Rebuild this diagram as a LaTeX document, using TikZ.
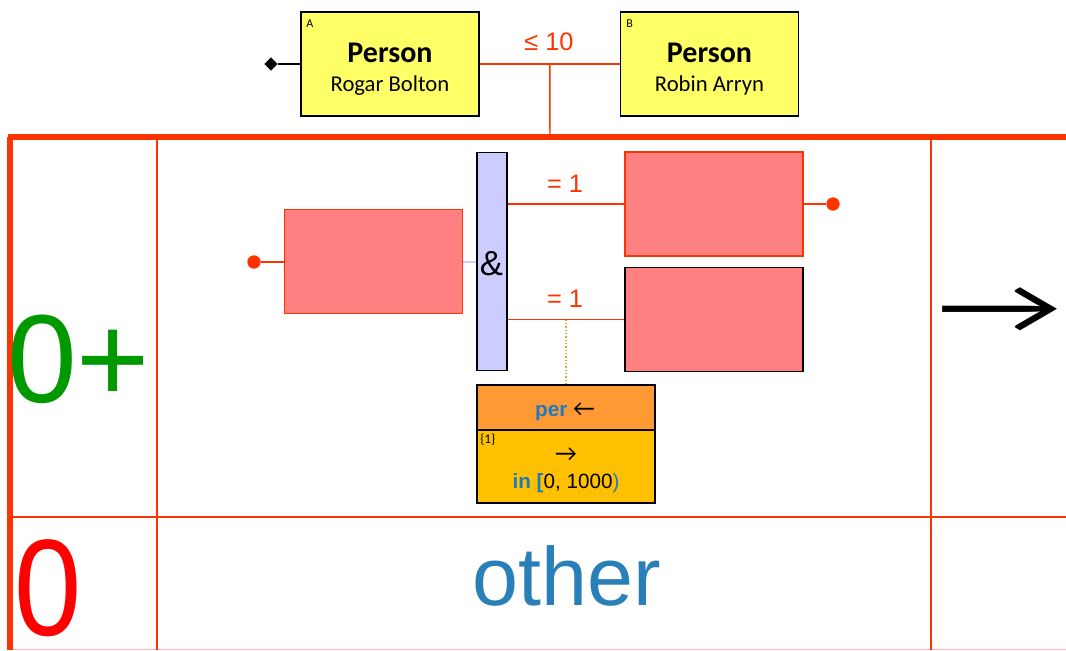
\documentclass[tikz,border=0pt]{standalone}
\usepackage{fontspec}
\setmainfont{Liberation Sans}
\newfontfamily\calibfont{Carlito}
\newfontfamily\narrowsans[FakeStretch=0.88]{Liberation Sans}
\usepackage{graphicx}
\usetikzlibrary{shapes.geometric,calc}
\definecolor{frameRed}{RGB}{255,51,0}
\definecolor{slotPink}{RGB}{255,128,128}
\definecolor{personYellow}{RGB}{255,255,102}
\definecolor{barLilac}{RGB}{204,204,255}
\definecolor{perOrange}{RGB}{255,153,51}
\definecolor{perAmber}{RGB}{255,192,0}
\definecolor{textBlue}{RGB}{31,122,190}
\definecolor{otherBlue}{RGB}{41,128,185}
\definecolor{plusGreen}{RGB}{0,153,0}
\tikzstyle{person} = [draw=black,fill=personYellow,line width=1.1pt,minimum width=133.5pt,minimum height=78pt,inner sep=0pt]
\tikzstyle{slot} = [draw=frameRed,fill=slotPink,line width=1.1pt,minimum width=133.5pt,minimum height=78pt,inner sep=0pt]
\tikzstyle{perbox} = [draw=black,line width=1.1pt,minimum width=133.5pt,inner sep=0pt]
\tikzstyle{frameline} = [color=frameRed,line width=1.1pt]
\tikzstyle{framethick} = [color=frameRed,line width=4.5pt]
\tikzstyle{link} = [color=frameRed,line width=1.1pt]
\tikzstyle{dot} = [circle,fill=frameRed,inner sep=0pt,minimum size=10pt]
\tikzstyle{lbl} = [inner sep=0pt,anchor=base,text=frameRed,font=\fontsize{19}{19}\selectfont]

\begin{document}
\begin{tikzpicture}[x=0.75pt,y=0.75pt,yscale=-1,xscale=1]
\useasboundingbox (0,0) rectangle (1066,650);

%Frame
\draw [frameline] (157,137) -- (157,650) ;
\draw [frameline] (931,137) -- (931,650) ;
\draw [frameline] (10,517) -- (1066,517) ;
\draw [frameline, draw opacity=0.35] (10,649.5) -- (1066,649.5) ;
\draw [framethick] (8,137) -- (1066,137) ;
\draw [framethick] (10,137) -- (10,650) ;
\coordinate (frameTop) at (550,137);

%Persons
\node [person] (personA) at (390,64) {};
\node [person] (personB) at (709.5,64) {};
\node [anchor=base,inner sep=0pt,font=\calibfont\fontsize{22.5}{22.5}\selectfont\bfseries] (titleA) at (390,62) {Person};
\node [anchor=base,inner sep=0pt,font=\calibfont\fontsize{17}{17}\selectfont] (nameA) at (390,91) {Rogar Bolton};
\node [anchor=base,inner sep=0pt,font=\calibfont\fontsize{22.5}{22.5}\selectfont\bfseries] (titleB) at (709.5,62) {Person};
\node [anchor=base,inner sep=0pt,font=\calibfont\fontsize{17}{17}\selectfont] (nameB) at (709.5,91) {Robin Arryn};
\node [anchor=base west,inner sep=0pt,font=\calibfont\fontsize{9}{9}\selectfont] (tagA) at (306,27) {A};
\node [anchor=base west,inner sep=0pt,font=\calibfont\fontsize{9}{9}\selectfont] (tagB) at (626,27) {B};
\node [diamond,fill=black,inner sep=0pt,minimum size=10pt] (rootA) at (271,64) {};
\draw [line width=1.1pt] (rootA) -- (personA.west) ;
\coordinate (relJoin) at ($(personA.east)!0.5!(personB.west)$);
\draw [link] (personA.east) -- (personB.west) ;
\draw [link] (relJoin) -- (frameTop) ;
\node [lbl] (limit) at (549,50) {≤ 10};

%Slots and bar
\node [slot] (slotLeft) at (373.5,261.5) {};
\node [slot] (slotTop) at (714,204) {};
\node [slot,draw=black] (slotBot) at (714,319.5) {};
\node [draw=black,fill=barLilac,line width=1.1pt,minimum width=22.5pt,minimum height=163.5pt,inner sep=0pt] (andbar) at (492,261.5) {};
\node [anchor=base,inner sep=0pt,font=\fontsize{26}{26}\selectfont] (andSign) at (491.5,275) {\&};
\node [dot] (dotLeft) at (254,262) {};
\node [dot] (dotTop) at (833,204) {};
\draw [link] (dotLeft) -- (dotLeft -| slotLeft.west) ;
\draw [link] (slotTop.east) -- (dotTop) ;
\draw [color=barLilac,line width=1.5pt] (slotLeft.east) -- (slotLeft.east -| andbar.west) ;
\draw [link] (andbar.east |- slotTop.west) -- (slotTop.west) ;
\draw [link] (andbar.east |- slotBot.west) -- (slotBot.west) ;
\node [lbl] (eqTop) at (565,192) {= 1};
\node [lbl] (eqBot) at (565,307) {= 1};

%Per box
\node [perbox,fill=perOrange,minimum height=33.75pt] (perhead) at (566,407.5) {};
\node [perbox,fill=perAmber,minimum height=54.75pt] (perbody) at (566,466.5) {};
\draw [color=perOrange,line width=1.2pt,dash pattern=on 1pt off 1.5pt] (perhead.north) -- (perhead.north |- slotBot.west) ;
\node [anchor=base,inner sep=0pt,font=\fontsize{15.5}{15.5}\selectfont] (perText) at (565,416) {\textcolor{textBlue}{\bfseries per} {\calibfont\fontsize{18}{18}\selectfont ←}};
\node [anchor=north west,inner sep=0pt,font=\calibfont\fontsize{10}{10}\selectfont] (perCount) at (480,434) {\{1\}};
\node [inner sep=0pt,font=\calibfont\fontsize{18}{18}\selectfont] (perArrow) at (566,455) {→};
\node [anchor=base,inner sep=0pt,font=\fontsize{15.5}{15.5}\selectfont] (perRange) at (566,488) {\textcolor{textBlue}{\bfseries in [}0, 1000\textcolor{textBlue}{)}};

% Text Node
\node [anchor=base,inner sep=0pt,text=plusGreen,font=\fontsize{94}{94}\selectfont] (levelPlus) at (78.5,402) {0+};
\node [anchor=base,inner sep=0pt,text=red,font=\narrowsans\fontsize{103}{103}\selectfont] (levelZero) at (48.5,635) {0};
\node [anchor=base,inner sep=0pt,text=otherBlue,font=\fontsize{62}{62}\selectfont] (otherText) at (566.5,605) {other};
\node [inner sep=0pt,font=\calibfont\fontsize{100}{100}\selectfont] (resultArrow) at (1000,311) {\scalebox{1.03}[0.6]{→}};

\end{tikzpicture}
\end{document}
